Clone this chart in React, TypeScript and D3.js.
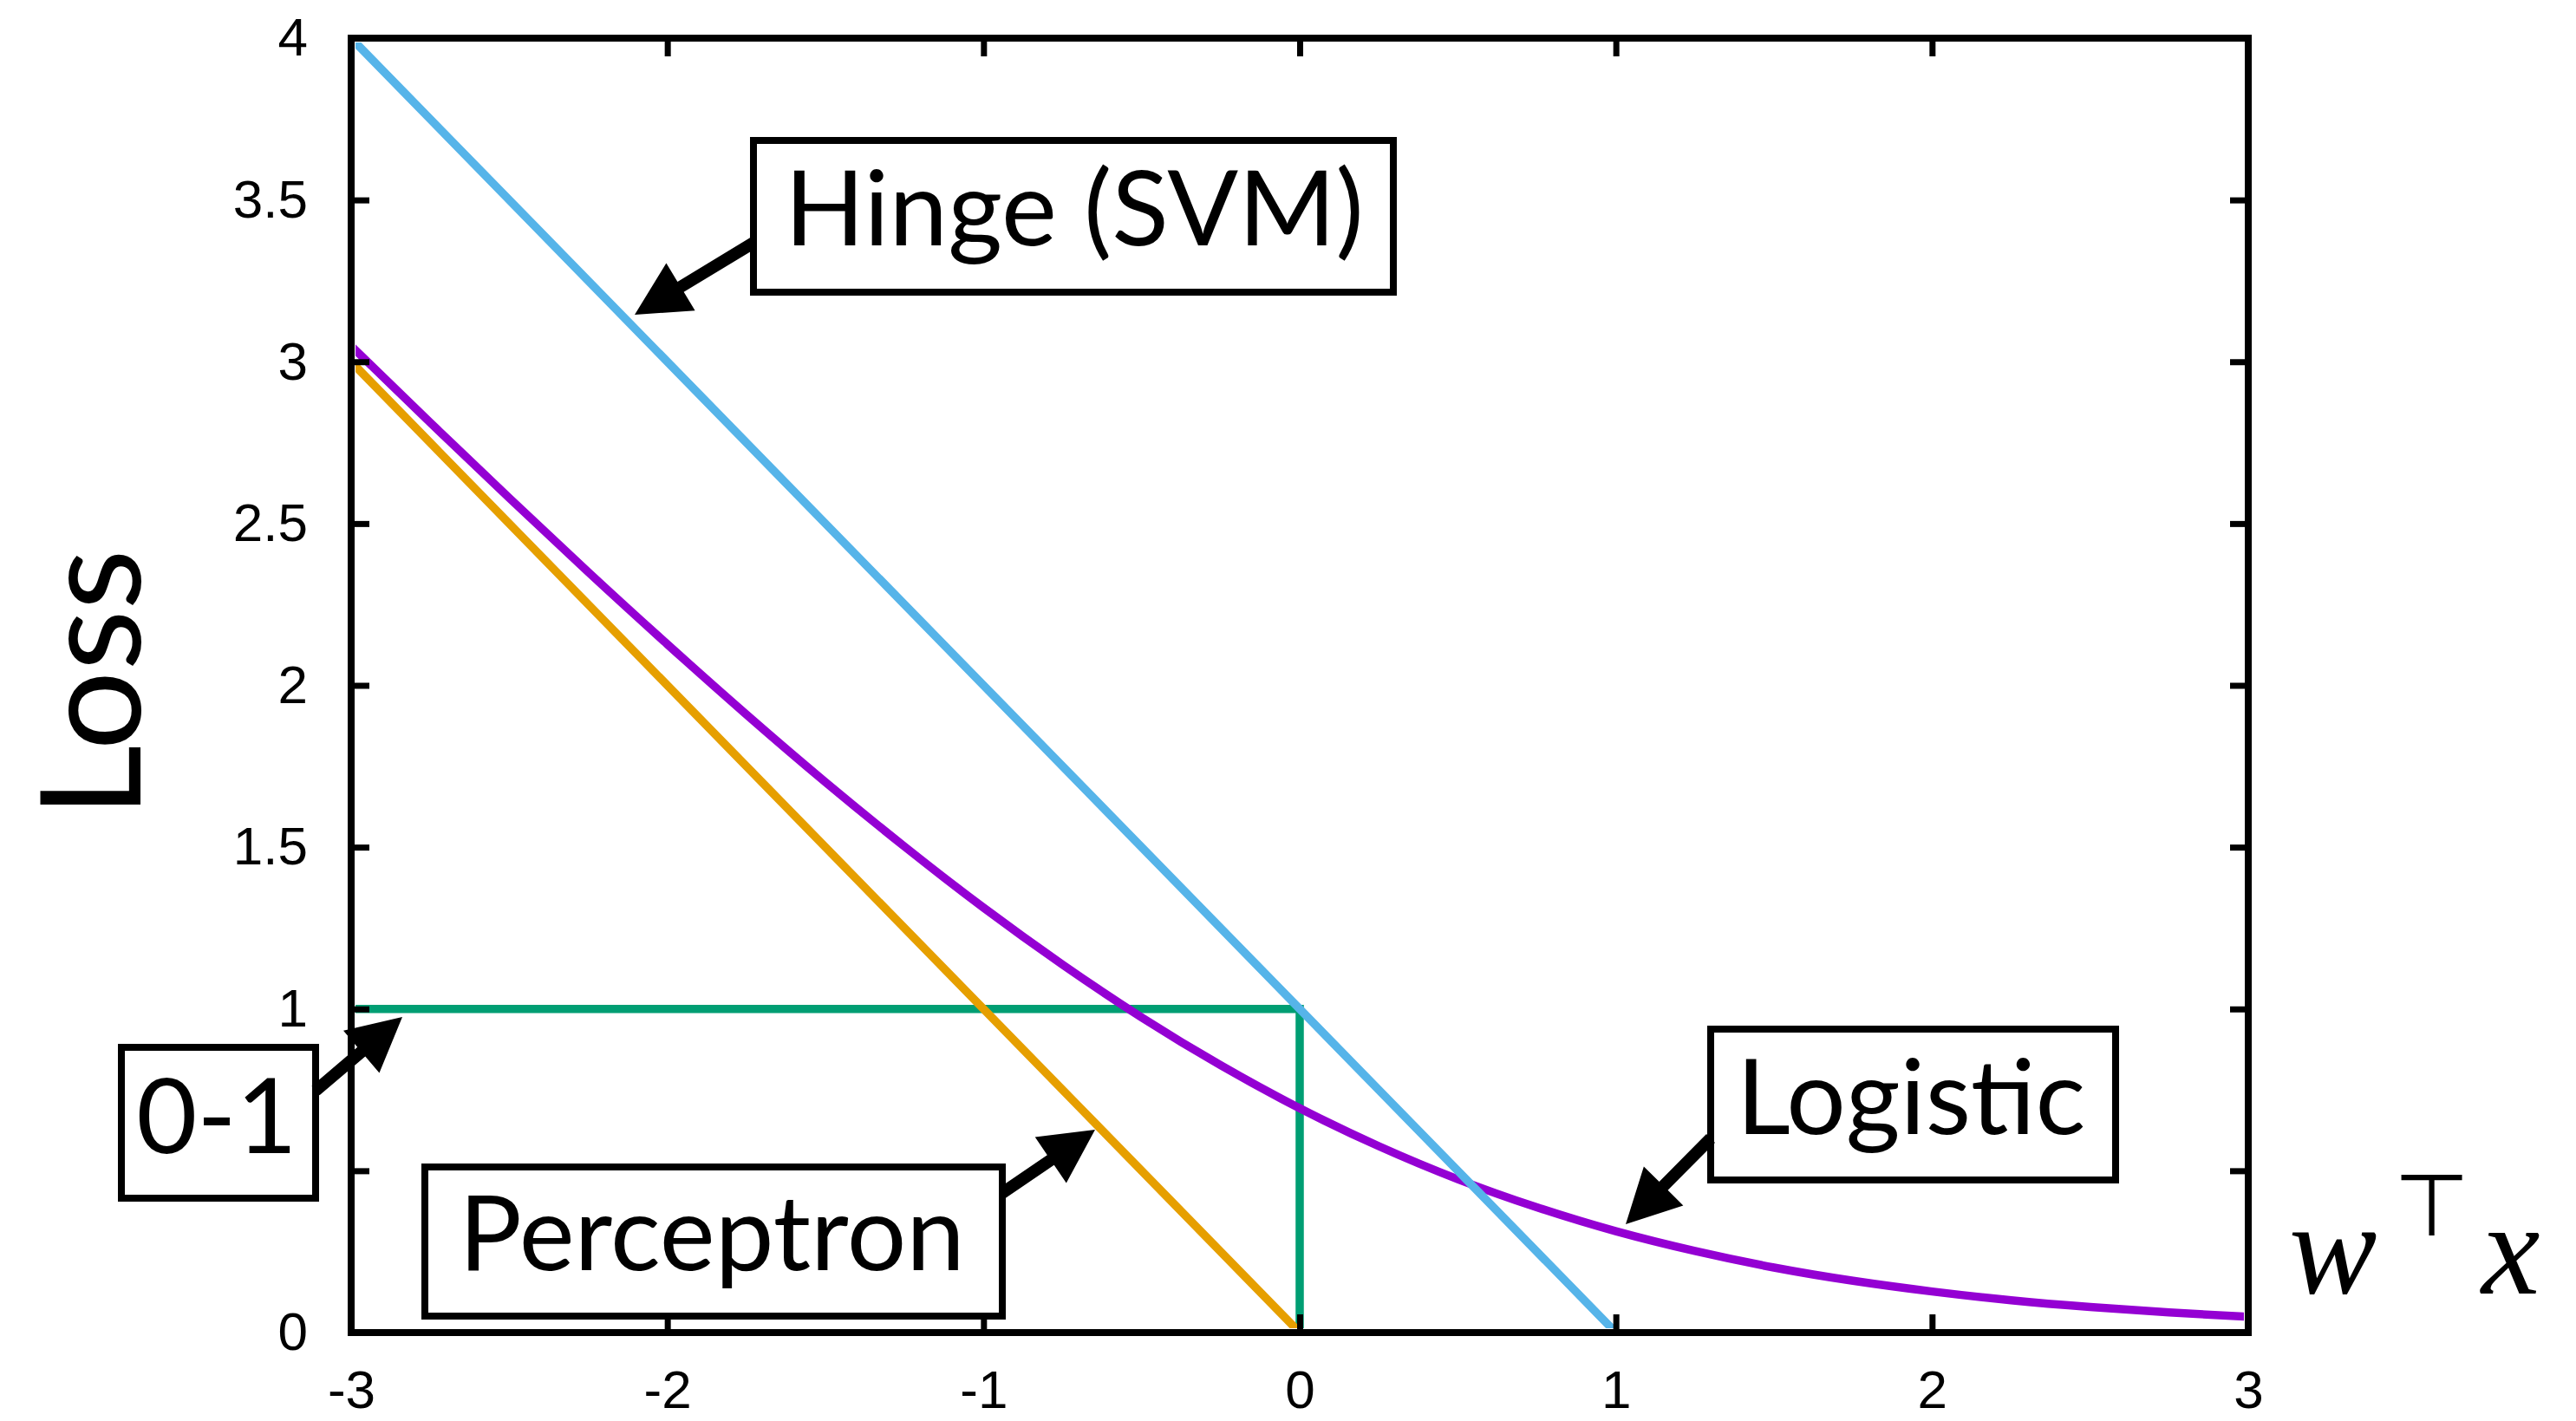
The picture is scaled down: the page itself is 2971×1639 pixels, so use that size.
import React, { useEffect, useRef } from 'react';
import * as d3 from 'd3';

const WIDTH = 2971;
const HEIGHT = 1639;

// axis ticks
const xTicks = [-3, -2, -1, 0, 1, 2, 3];
const yTicks = [0, 0.5, 1, 1.5, 2, 2.5, 3, 3.5, 4];
// the 0.5 label sits under the "0-1" box in the original, so it is not shown
const yTickLabels = ['0', '', '1', '1.5', '2', '2.5', '3', '3.5', '4'];

// loss curves
const hingeX = [-3, 1, 3];
const hingeY = [4, 0, 0];
const perceptronX = [-3, 0, 3];
const perceptronY = [3, 0, 0];
const zeroOneX = [-3, 0, 0, 3];
const zeroOneY = [1, 1, 0, 0];
const logisticX = [-3, -2.75, -2.5, -2.25, -2, -1.75, -1.5, -1.25, -1, -0.75, -0.5, -0.25, 0,
  0.25, 0.5, 0.75, 1, 1.25, 1.5, 1.75, 2, 2.25, 2.5, 2.75, 3];
const logisticY = [3.049, 2.812, 2.579, 2.350, 2.127, 1.910, 1.701, 1.502, 1.313, 1.137, 0.974, 0.826, 0.693,
  0.576, 0.474, 0.387, 0.313, 0.252, 0.201, 0.160, 0.127, 0.100, 0.079, 0.062, 0.049];

const seriesNames = ['0-1', 'Perceptron', 'Logistic', 'Hinge (SVM)'];
const seriesColors = ['#009e73', '#e69f00', '#9400d3', '#56b4e9'];

// boxes and arrows of the annotations (pixels)
const annotations = [
  { label: 'Hinge (SVM)', box: [869, 162, 738, 175], text: [1239, 283], from: [869, 280], to: [732, 363] },
  { label: 'Logistic', box: [1973, 1187, 467, 174], text: [2204, 1308], from: [1973, 1313], to: [1875, 1412] },
  { label: 'Perceptron', box: [490, 1346, 666, 172], text: [821, 1465], from: [1156, 1376], to: [1263, 1303] },
  { label: '0-1', box: [140, 1208, 224, 174], text: [250, 1330], from: [364, 1258], to: [464, 1173] },
];

const arrowShape = (x1, y1, x2, y2) => {
  const s = 7, H = 32, L = 62;
  const len = Math.hypot(x2 - x1, y2 - y1);
  const ux = (x2 - x1) / len, uy = (y2 - y1) / len;
  const nx = -uy, ny = ux;
  const bx = x2 - L * ux, by = y2 - L * uy;
  return [
    [x1 + s * nx, y1 + s * ny], [bx + s * nx, by + s * ny], [bx + H * nx, by + H * ny], [x2, y2],
    [bx - H * nx, by - H * ny], [bx - s * nx, by - s * ny], [x1 - s * nx, y1 - s * ny],
  ];
};

const App = () => {
  const ref = useRef(null);

  useEffect(() => {
    const svg = d3.select(ref.current);
    svg.selectAll('*').remove();

    const margin = { top: 44, right: WIDTH - 2593, bottom: HEIGHT - 1537, left: 405 };
    const w = WIDTH - margin.left - margin.right;
    const h = HEIGHT - margin.top - margin.bottom;
    const frame = 8;
    const inset = 5;

    svg.append('rect').attr('width', WIDTH).attr('height', HEIGHT).attr('fill', 'white');

    const x = d3.scaleLinear().domain([-3, 3]).range([0, w]);
    const y = d3.scaleLinear().domain([0, 4]).range([h, 0]);

    const chart = svg.append('g').attr('transform', `translate(${margin.left},${margin.top})`);

    // clip to the inside of the frame line
    svg.append('defs').append('clipPath').attr('id', 'plot-clip')
      .append('rect')
      .attr('x', inset).attr('y', inset)
      .attr('width', w - 2 * inset).attr('height', h - 2 * inset);

    const series = [
      [zeroOneX, zeroOneY],
      [perceptronX, perceptronY],
      [logisticX, logisticY],
      [hingeX, hingeY],
    ];

    const line = d3.line().x((d) => x(d[0])).y((d) => y(d[1]));
    const smooth = d3.line().x((d) => x(d[0])).y((d) => y(d[1])).curve(d3.curveNatural);

    const curves = chart.append('g').attr('clip-path', 'url(#plot-clip)');
    series.forEach(([xs, ys], i) => {
      const pts = xs.map((v, j) => [v, ys[j]]);
      curves.append('path')
        .attr('d', seriesNames[i] === 'Logistic' ? smooth(pts) : line(pts))
        .attr('fill', 'none')
        .attr('stroke', seriesColors[i])
        .attr('stroke-width', 9.5)
        .attr('stroke-linejoin', 'miter');
    });

    const tick = 21;
    const styleAxis = (g) => {
      g.select('.domain').remove();
      g.selectAll('.tick line').attr('stroke', 'black').attr('stroke-width', 7);
      g.selectAll('.tick text')
        .attr('fill', 'black')
        .attr('font-family', '"Liberation Sans", Arial, sans-serif')
        .attr('font-size', 62);
    };

    chart.append('g')
      .attr('transform', `translate(0,${h})`)
      .call(d3.axisBottom(x).tickValues(xTicks).tickSize(-tick).tickPadding(43).tickFormat((d) => String(d)))
      .call(styleAxis);
    chart.append('g')
      .call(d3.axisTop(x).tickValues(xTicks).tickSize(-tick).tickFormat(() => ''))
      .call(styleAxis);
    chart.append('g')
      .call(d3.axisLeft(y).tickValues(yTicks).tickSize(-tick).tickPadding(50)
        .tickFormat((d, i) => yTickLabels[i]))
      .call(styleAxis);
    chart.append('g')
      .attr('transform', `translate(${w},0)`)
      .call(d3.axisRight(y).tickValues(yTicks).tickSize(-tick).tickFormat(() => ''))
      .call(styleAxis);

    chart.append('rect')
      .attr('width', w).attr('height', h)
      .attr('fill', 'none').attr('stroke', 'black').attr('stroke-width', frame);

    // axis titles
    svg.append('text')
      .attr('transform', 'translate(162,788) rotate(-90)')
      .attr('text-anchor', 'middle')
      .attr('font-family', 'Lato, sans-serif')
      .attr('font-size', 162)
      .attr('fill', 'black')
      .text('Loss');

    const xt = svg.append('g').attr('fill', 'black');
    xt.append('text').attr('x', 2640).attr('y', 1492)
      .attr('font-family', '"Liberation Serif", serif').attr('font-style', 'italic')
      .attr('font-size', 152).text('w');
    xt.append('text').attr('x', 2804).attr('y', 1425).attr('text-anchor', 'middle')
      .attr('font-family', '"DejaVu Sans", sans-serif').attr('font-weight', 200)
      .attr('font-size', 100).text('⊤');
    xt.append('text').attr('x', 2862).attr('y', 1492)
      .attr('font-family', '"Liberation Serif", serif').attr('font-style', 'italic')
      .attr('font-size', 152).text('x');

    // labelled boxes with arrows
    const ann = svg.append('g');
    annotations.forEach((a) => {
      ann.append('rect')
        .attr('x', a.box[0]).attr('y', a.box[1]).attr('width', a.box[2]).attr('height', a.box[3])
        .attr('fill', 'white').attr('stroke', 'black').attr('stroke-width', 8);
      ann.append('text')
        .attr('x', a.text[0]).attr('y', a.text[1])
        .attr('text-anchor', 'middle')
        .attr('font-family', 'Lato, sans-serif')
        .attr('font-size', 121)
        .attr('fill', 'black')
        .text(a.label);
      ann.append('polygon')
        .attr('points', arrowShape(a.from[0], a.from[1], a.to[0], a.to[1]).map((p) => p.join(',')).join(' '))
        .attr('fill', 'black');
    });
  }, []);

  return (
    <svg
      ref={ref}
      width={WIDTH}
      height={HEIGHT}
      style={{ position: 'absolute', left: 0, top: 0 }}
    ></svg>
  );
};

export default App;
